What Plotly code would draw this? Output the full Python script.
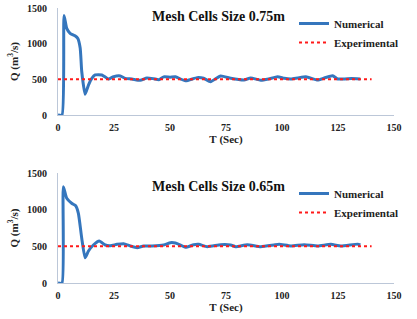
import plotly.graph_objects as go

# ---- data ----
t_075 = [0, 1.8, 2.7, 3.9, 5.4, 7.6, 8.8, 9.9, 10.6, 12.1, 13.6, 15.1, 16.6, 19.6, 22.5, 24.8,
         27.8, 30, 33, 36.7, 39.7, 42.7, 45, 47.2, 50, 52.4, 56.9, 62.1, 65, 68.1, 72.6, 77.1,
         83, 86, 90.5, 94, 98, 101, 104, 107, 110.7, 115.9, 118.9, 122.6, 124.9, 128, 131, 135]
q_075 = [0, 0, 1395, 1215, 1145, 1110, 1075, 940, 610, 290, 420, 514, 561, 561, 505, 537,
         547, 514, 505, 486, 520, 509, 495, 535, 530, 535, 480, 524, 515, 467, 547, 514,
         490, 519, 488, 505, 537, 515, 505, 520, 537, 490, 519, 551, 505, 505, 510, 505]

t_065 = [0, 1.8, 2.4, 3.9, 6.1, 7.9, 9.1, 10.6, 12.1, 13.6, 15.8, 18.4, 21.1, 23.3, 26.3, 29.3,
         32.3, 35.3, 38.2, 42, 47.2, 50.2, 52.4, 54.7, 56.9, 60.6, 62.8, 66.6, 72.6, 77.1, 79.3,
         84.5, 90.5, 96.4, 98.7, 104, 109.9, 115.9, 121.8, 126.3, 133.8, 135]
q_065 = [0, 0, 1313, 1155, 1087, 1054, 950, 610, 345, 436, 518, 573, 518, 509, 527, 536,
         505, 482, 505, 505, 518, 550, 545, 518, 486, 522, 527, 495, 522, 518, 495,
         522, 495, 518, 527, 505, 522, 505, 527, 505, 530, 520]

t_exp = [0, 140]
q_exp = [500, 500]

titles = ["Mesh Cells Size 0.75m", "Mesh Cells Size 0.65m"]
x_ticks = [0, 25, 50, 75, 100, 125, 150]
y_ticks = [0, 500, 1000, 1500]

BLUE = "#3576bd"
RED = "#ff1a1a"
AXIS = "#bcc7d8"
SERIF = "Liberation Serif, Times New Roman, serif"

fig = go.Figure()

panels = [
    dict(t=t_075, q=q_075, xa="x", ya="y", leg="legend"),
    dict(t=t_065, q=q_065, xa="x2", ya="y2", leg="legend2"),
]
for p in panels:
    fig.add_trace(go.Scatter(x=p["t"], y=p["q"], mode="lines", name="<b>Numerical</b>",
                             line=dict(color=BLUE, width=3, shape="spline", smoothing=0.5),
                             xaxis=p["xa"], yaxis=p["ya"], legend=p["leg"]))
    fig.add_trace(go.Scatter(x=t_exp, y=q_exp, mode="lines", name="<b>Experimental</b>",
                             line=dict(color=RED, width=2, dash="dot"),
                             xaxis=p["xa"], yaxis=p["ya"], legend=p["leg"]))

W, H = 417, 319


def px(v):
    return v / W


def py(v):
    return 1 - v / H


xdom = [px(58), px(394)]
ydom_top = [py(115), py(8)]
ydom_bot = [py(283), py(173)]

tickf = dict(family=SERIF, size=10, color="#222", weight="bold")
xcommon = dict(range=[0, 150], tickvals=x_ticks, showgrid=False, zeroline=False,
               showline=True, linecolor=AXIS, linewidth=1, ticks="", automargin=False,
               tickfont=tickf, ticklabeloverflow="allow", ticklabelstandoff=3,
               title=dict(text="<b>T</b> <b>(Sec)</b>", font=dict(family=SERIF, size=11, color="#222"),
                          standoff=3),
               domain=xdom)
ycommon = dict(range=[0, 1500], tickvals=y_ticks, showgrid=False, zeroline=False,
               showline=True, linecolor=AXIS, linewidth=1, ticks="", automargin=False,
               tickfont=tickf, ticklabeloverflow="allow", ticklabelstandoff=8,
               title=dict(text="<b>Q (m<sup>3</sup>/s)</b>", font=dict(family=SERIF, size=11, color="#222"),
                          standoff=6))

legcommon = dict(font=dict(family=SERIF, size=11, color="#222"), bgcolor="rgba(0,0,0,0)",
                 xanchor="left", yanchor="top", x=px(294), tracegroupgap=0)

fig.update_layout(
    width=W, height=H,
    margin=dict(l=0, r=0, t=0, b=0),
    paper_bgcolor="white", plot_bgcolor="white",
    xaxis=dict(**xcommon, anchor="y"),
    yaxis=dict(**ycommon, domain=ydom_top, anchor="x"),
    xaxis2=dict(**xcommon, anchor="y2"),
    yaxis2=dict(**ycommon, domain=ydom_bot, anchor="x2"),
    legend=dict(**legcommon, y=py(9)),
    legend2=dict(**legcommon, y=py(179)),
    annotations=[
        dict(text="<b>" + titles[0] + "</b>", xref="paper", yref="paper", x=px(218), y=py(17),
             xanchor="center", yanchor="middle",
             showarrow=False, font=dict(family=SERIF, size=14, color="#111")),
        dict(text="<b>" + titles[1] + "</b>", xref="paper", yref="paper", x=px(218), y=py(186),
             xanchor="center", yanchor="middle",
             showarrow=False, font=dict(family=SERIF, size=14, color="#111")),
    ],
)

fig.write_html("out.html", config={"displayModeBar": False},
               post_script="document.body.style.margin='0';")
